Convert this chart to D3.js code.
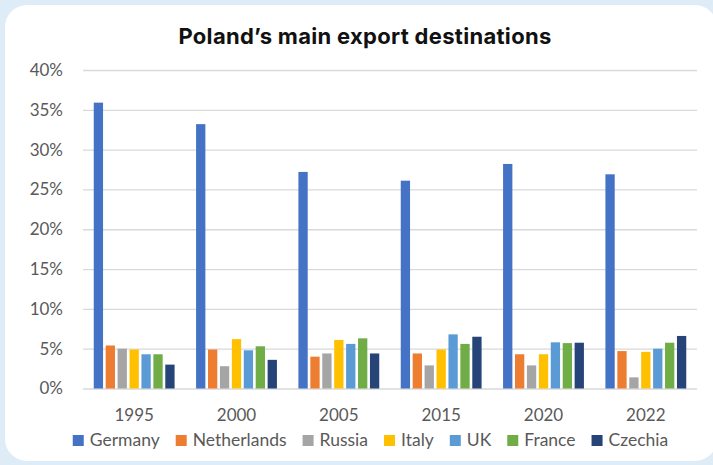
<!DOCTYPE html>
<html>
<head>
<meta charset="utf-8">
<script src="https://cdn.jsdelivr.net/npm/d3@7"></script>
<style>
  html, body { margin: 0; padding: 0; background: #ddecf7; }
  svg { display: block; }
</style>
</head>
<body>
<svg id="chart" width="713" height="465"></svg>
<script>
// Years shown along the x axis
const years = ["1995", "2000", "2005", "2015", "2020", "2022"];

// Export destinations (one bar per destination in every year)
const countries = ["Germany", "Netherlands", "Russia", "Italy", "UK", "France", "Czechia"];

// Share of Polish exports, in percent, per destination (same order as years)
const germany     = [35.9, 33.2, 27.2, 26.1, 28.2, 26.9];
const netherlands = [5.4, 4.9, 4.0, 4.4, 4.3, 4.7];
const russia      = [5.0, 2.8, 4.4, 2.9, 2.9, 1.4];
const italy       = [4.9, 6.2, 6.1, 4.9, 4.3, 4.6];
const uk          = [4.3, 4.8, 5.6, 6.8, 5.8, 5.0];
const france      = [4.3, 5.3, 6.3, 5.6, 5.7, 5.75];
const czechia     = [3.0, 3.6, 4.4, 6.5, 5.75, 6.6];

// Axis ticks (percent)
const yTicks = [0, 5, 10, 15, 20, 25, 30, 35, 40];

const chartTitle = "Poland’s main export destinations";

const seriesValues = [germany, netherlands, russia, italy, uk, france, czechia];
const colors = ["#4472C4", "#ED7D31", "#A5A5A5", "#FFC000", "#5B9BD5", "#70AD47", "#264478"];

const rows = years.map((yr, i) => ({
  year: yr,
  values: countries.map((c, j) => ({ country: c, value: seriesValues[j][i] }))
}));

const svg = d3.select("#chart");

// white card
svg.append("rect")
  .attr("x", 5).attr("y", 5)
  .attr("width", 712).attr("height", 456)
  .attr("rx", 22).attr("ry", 22)
  .attr("fill", "#ffffff");

const labelFont = "Lato, 'Open Sans', sans-serif";
const textColor = "#595959";

svg.append("text")
  .attr("x", 365).attr("y", 44)
  .attr("text-anchor", "middle")
  .attr("font-family", "Inter, Roboto, sans-serif")
  .attr("font-weight", 700)
  .attr("font-size", 22)
  .attr("letter-spacing", 0.3)
  .attr("fill", "#111")
  .text(chartTitle);

const plotLeft = 83, plotRight = 697, plotTop = 70, plotBottom = 388.5;

const x = d3.scaleBand()
  .domain(years)
  .range([plotLeft, plotRight])
  .paddingInner(0.21)
  .paddingOuter(0.105);

const xInner = d3.scaleBand()
  .domain(countries)
  .range([0, x.bandwidth()])
  .paddingInner(0.22);

const y = d3.scaleLinear().domain([0, 40]).range([plotBottom, plotTop]);

// gridlines + y labels
const yAxis = d3.axisLeft(y)
  .tickValues(yTicks)
  .tickSize(-(plotRight - plotLeft))
  .tickPadding(20)
  .tickFormat(d => d + "%");

const gy = svg.append("g")
  .attr("transform", `translate(${plotLeft},0)`)
  .call(yAxis);
gy.select(".domain").remove();
gy.selectAll(".tick line")
  .attr("stroke", "#d9d9d9")
  .attr("stroke-width", 1.3);
gy.selectAll(".tick text")
  .attr("font-family", labelFont)
  .attr("font-size", 17)
  .attr("fill", textColor);

// bars
const groups = svg.append("g")
  .selectAll("g")
  .data(rows)
  .join("g")
  .attr("transform", d => `translate(${x(d.year)},0)`);

groups.selectAll("rect")
  .data(d => d.values)
  .join("rect")
  .attr("x", d => xInner(d.country))
  .attr("width", xInner.bandwidth())
  .attr("y", d => y(d.value))
  .attr("height", d => y(0) - y(d.value))
  .attr("fill", (d, i) => colors[i]);

// x axis labels
const xAxis = d3.axisBottom(x).tickSize(0).tickPadding(20);
const gx = svg.append("g")
  .attr("transform", `translate(0,${plotBottom})`)
  .call(xAxis);
gx.select(".domain").remove();
gx.selectAll(".tick text")
  .attr("font-family", labelFont)
  .attr("font-size", 17)
  .attr("fill", textColor);

// legend
const legend = svg.append("g");
const items = legend.selectAll("g")
  .data(countries)
  .join("g");
items.append("rect")
  .attr("width", 11).attr("height", 11)
  .attr("y", -11)
  .attr("fill", (d, i) => colors[i]);
items.append("text")
  .attr("x", 17)
  .attr("y", 0)
  .attr("font-family", labelFont)
  .attr("font-size", 17.5)
  .attr("fill", textColor)
  .text(d => d);

let cursor = 0;
items.each(function () {
  const g = d3.select(this);
  g.attr("transform", `translate(${cursor},446)`);
  const tw = g.select("text").node().getComputedTextLength();
  cursor += 17 + tw + 16;
});
const total = cursor - 16;
legend.attr("transform", `translate(${370.5 - total / 2},0)`);
</script>
</body>
</html>
